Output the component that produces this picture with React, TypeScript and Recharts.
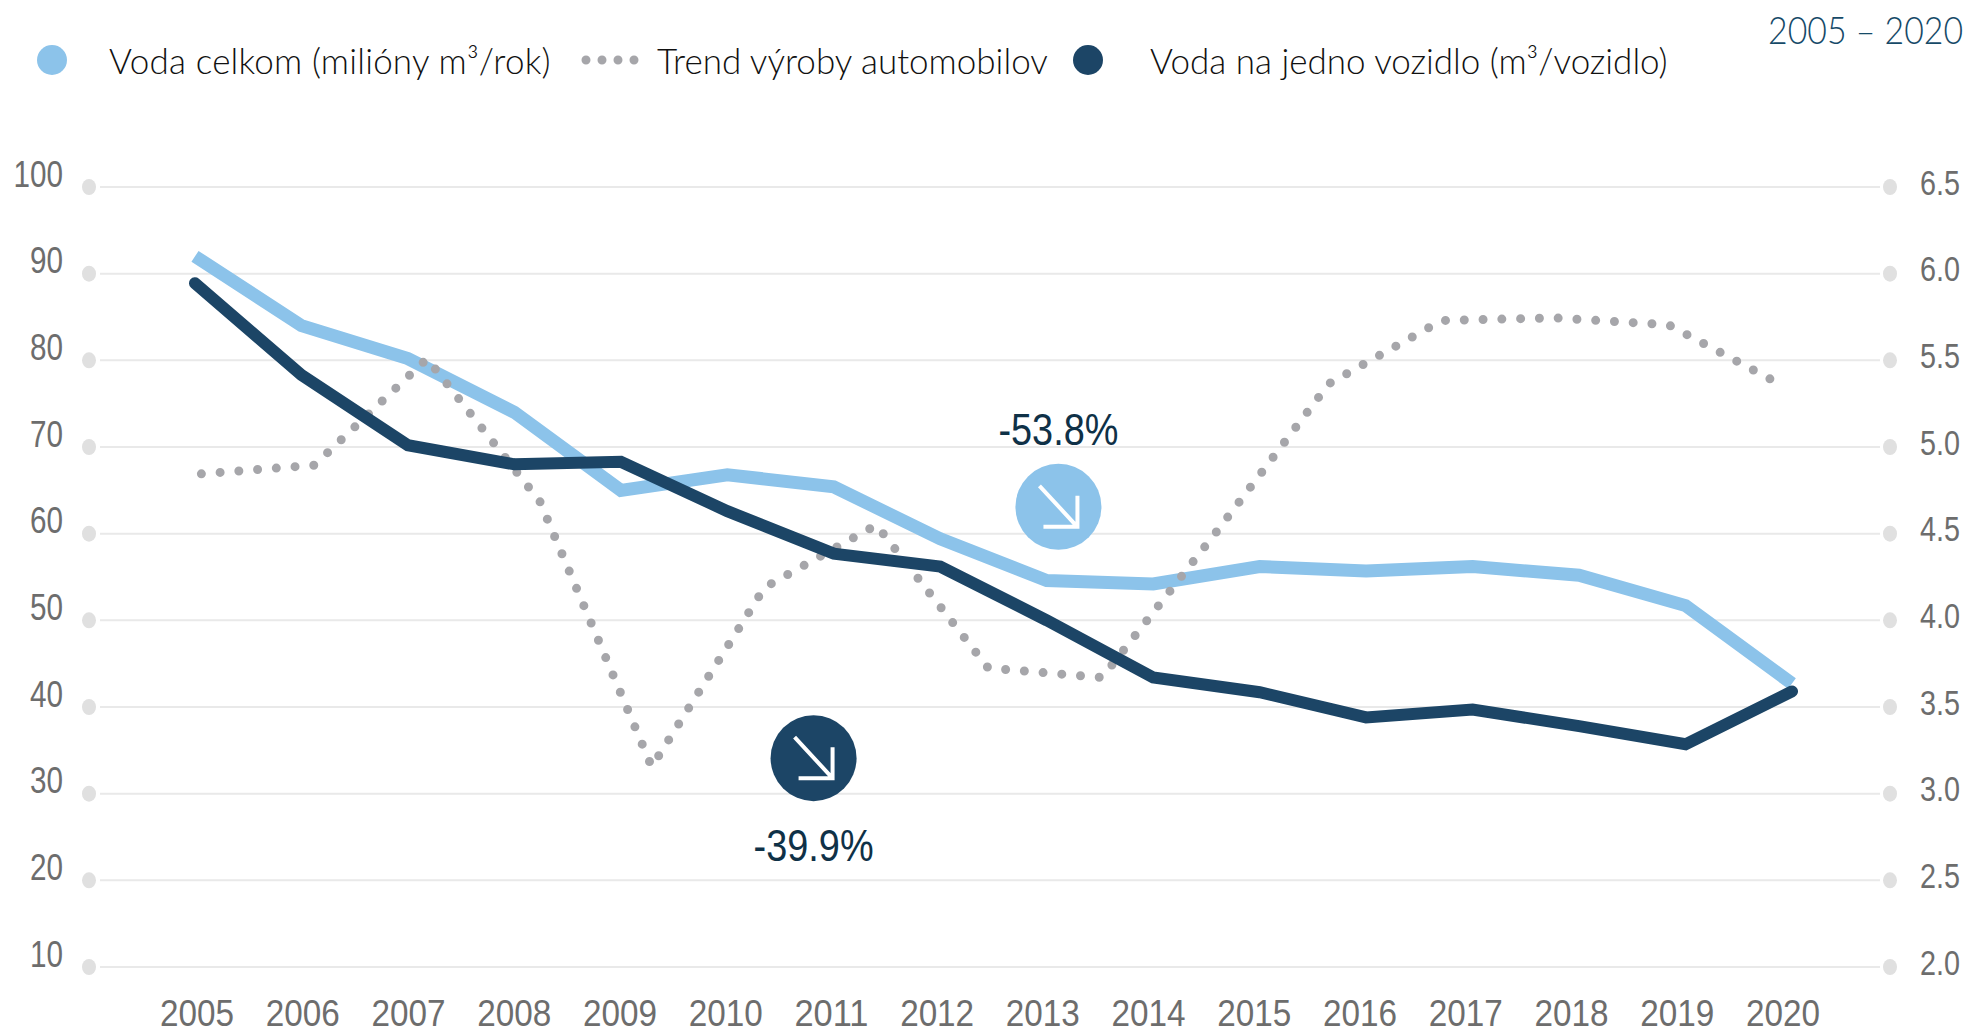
import React from "react";
import { ComposedChart, Line, XAxis, YAxis, CartesianGrid, Legend, ReferenceDot } from "recharts";

const years = [2005, 2006, 2007, 2008, 2009, 2010, 2011, 2012, 2013, 2014, 2015, 2016, 2017, 2018, 2019, 2020];
const waterTotal = [92, 84, 80.2, 74, 65, 66.8, 65.4, 59.4, 54.6, 54.2, 56.2, 55.7, 56.2, 55.2, 51.7, 42.7];
const waterPerVehicle = [5.945, 5.415, 5.01, 4.9, 4.915, 4.63, 4.385, 4.31, 4.0, 3.67, 3.585, 3.44, 3.485, 3.39, 3.285, 3.59];
const trendYears = [2005.06, 2006.12, 2007.18, 2008.24, 2009.29, 2010.35, 2011.4, 2012.45, 2013.52, 2014.6, 2015.65, 2016.71, 2017.77, 2018.84, 2019.94];
const trendValues = [66.9, 67.9, 80.2, 63.7, 33.1, 53.8, 61, 44.5, 43.4, 60.3, 77.3, 84.6, 84.9, 84.1, 76.9];
const leftTicks = [10, 20, 30, 40, 50, 60, 70, 80, 90, 100];
const rightTicks = [2, 2.5, 3, 3.5, 4, 4.5, 5, 5.5, 6, 6.5];
const names = ["Voda celkom (milióny m³/rok)", "Trend výroby automobilov", "Voda na jedno vozidlo (m³/vozidlo)"];
const period = "2005 – 2020";

const LIGHT = "#8cc3ea";
const DARK = "#1c4566";
const DOT = "#a6a6aa";
const FONT = "'Liberation Sans', sans-serif";

const seriesData = years.map((year, i) => ({ year, total: waterTotal[i], perVehicle: waterPerVehicle[i] }));
const trendData = trendYears.map((year, i) => ({ year, trend: trendValues[i] }));

const LeftTick = ({ y, payload }: any) => {
  const s = String(payload.value);
  return (
    <g>
      <ellipse cx={89} cy={y} rx={7} ry={8} fill="#e0e0e0" />
      <text x={63} y={y - 13} textAnchor="end" dominantBaseline="central" fontFamily={FONT} fontSize={37} fill="#6d6d6d" textLength={s.length * 16.5} lengthAdjust="spacingAndGlyphs">{s}</text>
    </g>
  );
};
const RightTick = ({ y, payload }: any) => (
  <g>
    <ellipse cx={1890} cy={y} rx={7} ry={8} fill="#e0e0e0" />
    <text x={1920} y={y - 5} textAnchor="start" dominantBaseline="central" fontFamily={FONT} fontSize={35} fill="#6d6d6d" textLength={40} lengthAdjust="spacingAndGlyphs">{Number(payload.value).toFixed(1)}</text>
  </g>
);
const BottomTick = ({ x, payload }: any) => (
  <text x={x} y={1013} textAnchor="middle" dominantBaseline="central" fontFamily={FONT} fontSize={37} fill="#6d6d6d" textLength={74} lengthAdjust="spacingAndGlyphs">{payload.value}</text>
);

const Badge = ({ cx, cy, fill }: any) => (
  <g>
    <circle cx={cx} cy={cy} r={43} fill={fill} />
    <path d={`M${cx - 19} ${cy - 21} L${cx + 18} ${cy + 19} M${cx + 19} ${cy - 11} L${cx + 19} ${cy + 20} L${cx - 15} ${cy + 20}`} fill="none" stroke="#fff" strokeWidth={4} />
  </g>
);

const Pct = ({ cx, cy, value }: any) => (
  <text x={cx} y={cy} textAnchor="middle" dominantBaseline="central" fontFamily={FONT} fontSize={44} fill="#0f3147" textLength={120} lengthAdjust="spacingAndGlyphs">{value}</text>
);

const legendSlots = [
  { marker: 52, text: 109, spacing: 0.2 },
  { marker: 611, text: 657, spacing: 0 },
  { marker: 1088, text: 1150, spacing: 0 },
];

const LegendContent = ({ payload }: any) => (
  <div style={{ position: "relative", width: 1700, height: 60 }}>
    {(payload || []).map((entry: any, i: number) => {
      const slot = legendSlots[i];
      return (
        <React.Fragment key={entry.value}>
          {i === 1 ? (
            <svg style={{ position: "absolute", left: slot.marker - 30, top: 24, overflow: "visible" }} width={60} height={12}>
              <line x1={5} x2={55} y1={6} y2={6} stroke={DOT} strokeWidth={9} strokeLinecap="round" strokeDasharray="0 16" />
            </svg>
          ) : (
            <span style={{ position: "absolute", left: slot.marker - 15, top: 15, width: 30, height: 30, borderRadius: 15, background: entry.color }} />
          )}
          <span style={{ position: "absolute", left: slot.text, top: 8, fontFamily: "Lato, sans-serif", fontWeight: 300, fontSize: 35, letterSpacing: slot.spacing, lineHeight: "44px", color: "#111", whiteSpace: "nowrap" }}>{entry.value}</span>
        </React.Fragment>
      );
    })}
  </div>
);

export default function App() {
  return (
    <div style={{ position: "fixed", left: 0, top: 0, width: 1972, height: 1034, background: "#fff" }}>
      <ComposedChart width={1972} height={1034} data={seriesData} margin={{ top: 187, right: 0, bottom: 0, left: 0 }}>
        <CartesianGrid vertical={false} stroke="#e9e9e9" strokeWidth={2} yAxisId="left" />
        <XAxis xAxisId="lines" type="number" dataKey="year" domain={[2005, 2020]} hide padding={{ left: 95, right: 88 }} />
        <XAxis xAxisId="labels" type="number" dataKey="year" domain={[2005, 2020]} ticks={years} interval={0} height={67} padding={{ left: 97, right: 97 }} axisLine={false} tickLine={false} tick={<BottomTick />} />
        <YAxis yAxisId="left" orientation="left" domain={[10, 100]} ticks={leftTicks} interval={0} width={100} axisLine={false} tickLine={false} tick={<LeftTick />} />
        <YAxis yAxisId="right" orientation="right" domain={[2, 6.5]} ticks={rightTicks} interval={0} width={92} axisLine={false} tickLine={false} tick={<RightTick />} />
        <Legend layout="horizontal" verticalAlign="middle" align="center" itemSorter={null} content={<LegendContent />} wrapperStyle={{ left: 0, top: 30, width: 1700 }} />
        <Line xAxisId="lines" yAxisId="left" dataKey="total" name={names[0]} stroke={LIGHT} strokeWidth={13} dot={false} activeDot={false} strokeLinejoin="miter" isAnimationActive={false} />
        <Line xAxisId="lines" yAxisId="left" data={trendData} dataKey="trend" name={names[1]} stroke={DOT} strokeWidth={9} strokeLinecap="round" strokeDasharray="0 18.785" dot={false} activeDot={false} isAnimationActive={false} />
        <Line xAxisId="lines" yAxisId="right" dataKey="perVehicle" name={names[2]} stroke={DARK} strokeWidth={12} strokeLinecap="round" strokeLinejoin="miter" dot={false} activeDot={false} isAnimationActive={false} />
        <ReferenceDot xAxisId="lines" yAxisId="left" x={2013.11} y={63.1} r={43} shape={(p: any) => <Badge {...p} fill={LIGHT} />} />
        <ReferenceDot xAxisId="lines" yAxisId="left" x={2010.81} y={34.1} r={43} shape={(p: any) => <Badge {...p} fill={DARK} />} />
        <ReferenceDot xAxisId="lines" yAxisId="left" x={2013.11} y={72} r={1} shape={(p: any) => <Pct {...p} value="-53.8%" />} />
        <ReferenceDot xAxisId="lines" yAxisId="left" x={2010.81} y={24} r={1} shape={(p: any) => <Pct {...p} value="-39.9%" />} />
        <text transform="translate(1963 29) scale(0.89 1)" textAnchor="end" dominantBaseline="central" fontFamily="Lato, sans-serif" fontWeight={300} fontSize={38} fill="#164a68">{period}</text>
      </ComposedChart>
    </div>
  );
}
